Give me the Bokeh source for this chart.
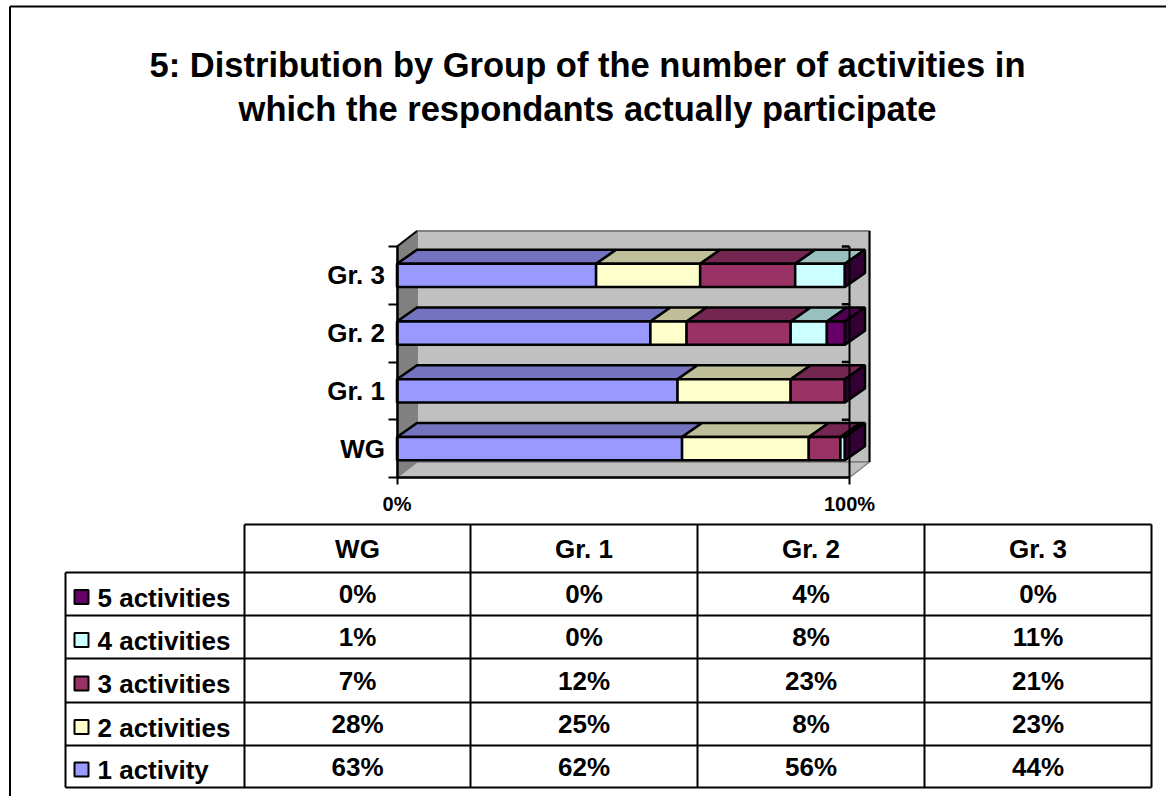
from bokeh.plotting import figure
from bokeh.models import Range1d, LinearAxis, FixedTicker
from bokeh.core.properties import value
from bokeh.embed import file_html
from bokeh.resources import INLINE

# ---- data ----
groups = ["WG", "Gr. 1", "Gr. 2", "Gr. 3"]
series = ["5 activities", "4 activities", "3 activities", "2 activities", "1 activity"]
activity_1 = [63, 62, 56, 44]
activity_2 = [28, 25, 8, 23]
activity_3 = [7, 12, 23, 21]
activity_4 = [1, 0, 8, 11]
activity_5 = [0, 0, 4, 0]
title_lines = ["5: Distribution by Group of the number of activities in",
               "which the respondants actually participate"]

# ---- styles ----
stack = [activity_1, activity_2, activity_3, activity_4, activity_5]
front = ["#9999FF", "#FFFFCC", "#993366", "#CCFFFF", "#660066"]
top_c = ["#7373BF", "#BFBF99", "#732650", "#99BFBF", "#4D004D"]
side_c = "#330033"
FONT = value("Liberation Sans")
W, H = 1166, 796
X0, Y0, PCT, BAND = 396.5, 477, 4.525, 57.75
WALL_DX, WALL_DY = 20 / PCT, 15.5 / BAND
BAR_DX, BAR_DY = 20 / PCT, 14 / BAND
BAR_H = 0.2
LW = 2.5

p = figure(width=W, height=H, output_backend="svg", toolbar_location=None,
           x_axis_type=None, y_axis_type=None, min_border=0,
           x_range=Range1d(-X0 / PCT, (W - X0) / PCT),
           y_range=Range1d(-(H - Y0) / BAND, Y0 / BAND),
           extra_x_ranges={"page": Range1d(0, W)},
           extra_y_ranges={"page": Range1d(H, 0)},
           background_fill_color="white", border_fill_color="white",
           outline_line_color=None,
           styles={"position": "absolute", "left": "0px", "top": "0px"})
p.grid.visible = False

n = len(groups)
# walls
p.patch([0, WALL_DX, WALL_DX, 0], [0, WALL_DY, n + WALL_DY, n], fill_color="#808080", line_color="#808080")
p.quad(left=[WALL_DX], right=[100 + WALL_DX], bottom=[WALL_DY], top=[n + WALL_DY],
       fill_color="#C0C0C0", line_color="#808080", line_width=2)
p.patch([0, 100, 100 + WALL_DX, WALL_DX], [0, 0, WALL_DY, WALL_DY], fill_color="#C0C0C0", line_color="#808080", line_width=1.5)
p.line([100 + WALL_DX, 100 + WALL_DX], [WALL_DY, n + WALL_DY], line_color="black", line_width=2)
p.line([0, WALL_DX], [n, n + WALL_DY], line_color="black", line_width=2)

# bars
for gi in range(n):
    cum = 0
    b, t = gi + 0.5 - BAR_H, gi + 0.5 + BAR_H
    for si, vals in enumerate(stack):
        v = vals[gi]
        l, r = cum, cum + v
        p.patch([l, l + BAR_DX, r + BAR_DX, r], [t, t + BAR_DY, t + BAR_DY, t],
                fill_color=top_c[si], line_color="black", line_width=LW)
        p.quad(left=[l], right=[r], bottom=[b], top=[t], fill_color=front[si], line_color="black", line_width=LW)
        cum = r
    p.patch([cum, cum + BAR_DX, cum + BAR_DX, cum], [b, b + BAR_DY, t + BAR_DY, t],
            fill_color=side_c, line_color="black", line_width=LW)

# 100% line with its small marks
p.line([100, 100], [0, n], line_color="black", line_width=2)
p.segment(x0=[98.3] * n, x1=[100] * n, y0=[i + 1 for i in range(n)], y1=[i + 1 for i in range(n)],
          line_color="black", line_width=2.5)

# axes
xax = LinearAxis(fixed_location=0, ticker=FixedTicker(ticks=[0, 100]), bounds=(0, 100),
                 major_label_overrides={0: "0%", 100: "100%"})
xax.axis_line_width = 2.5
xax.major_tick_line_width = 2
xax.major_tick_out = 7
xax.major_tick_in = 0
xax.major_label_standoff = 8
xax.major_label_text_font = "Liberation Sans"
xax.major_label_text_font_style = "bold"
xax.major_label_text_font_size = "20px"
xax.major_label_text_color = "black"
p.add_layout(xax, "below")

centers = [i + 0.5 for i in range(n)]
yax = LinearAxis(fixed_location=0, bounds=(0, n),
                 ticker=FixedTicker(ticks=centers, minor_ticks=list(range(n + 1))),
                 major_label_overrides={c: g for c, g in zip(centers, groups)})
yax.axis_line_width = 2.5
yax.major_tick_out = 0
yax.major_tick_in = 0
yax.minor_tick_out = 9
yax.minor_tick_in = 0
yax.minor_tick_line_width = 2
yax.major_label_standoff = 3
yax.major_label_text_font = "Liberation Sans"
yax.major_label_text_font_style = "bold"
yax.major_label_text_font_size = "26px"
yax.major_label_text_color = "black"
p.add_layout(yax, "left")

# page frame
page = dict(x_range_name="page", y_range_name="page")
p.segment(x0=[9.5, 9.5], y0=[6, 6], x1=[W, 9.5], y1=[6, H], line_color="black", line_width=2, **page)

# title
p.text(x=[587, 587], y=[64, 108], text=title_lines, text_font=FONT, text_font_style="bold",
       text_font_size="34.5px", text_align="center", text_baseline="middle", text_color="black", **page)

# table
col_x = [244, 470, 697, 924, 1151]
row_y = [572, 615, 658, 702, 745, 787]
header_top, left_x = 524, 65
lw = dict(line_color="black", line_width=2)
p.segment(x0=[col_x[0]], y0=[header_top], x1=[col_x[-1]], y1=[header_top], **lw, **page)
p.segment(x0=[left_x] * len(row_y), y0=row_y, x1=[col_x[-1]] * len(row_y), y1=row_y, **lw, **page)
p.segment(x0=[left_x], y0=[row_y[0]], x1=[left_x], y1=[row_y[-1]], **lw, **page)
p.segment(x0=col_x, y0=[header_top] * 5, x1=col_x, y1=[row_y[-1]] * 5, **lw, **page)

cx = [(col_x[i] + col_x[i + 1]) / 2 for i in range(4)]
txt = dict(text_font=FONT, text_font_style="bold", text_font_size="26px", text_baseline="middle", text_color="black")
p.text(x=cx, y=[548] * 4, text=groups, text_align="center", **txt, **page)

rows = [activity_5, activity_4, activity_3, activity_2, activity_1]
row_colors = front[::-1]
for ri, (name, vals) in enumerate(zip(series, rows)):
    mid = (row_y[ri] + row_y[ri + 1]) / 2
    p.text(x=cx, y=[mid] * 4, text=[f"{v}%" for v in vals], text_align="center", **txt, **page)
    p.text(x=[97], y=[mid + 3.5], text=[name], text_align="left", **txt, **page)
    p.quad(left=[74], right=[88], top=[mid + 3 - 7], bottom=[mid + 3 + 7],
           fill_color=row_colors[ri], line_color="black", line_width=2, **page)

open("out.html", "w").write(file_html(p, INLINE))
